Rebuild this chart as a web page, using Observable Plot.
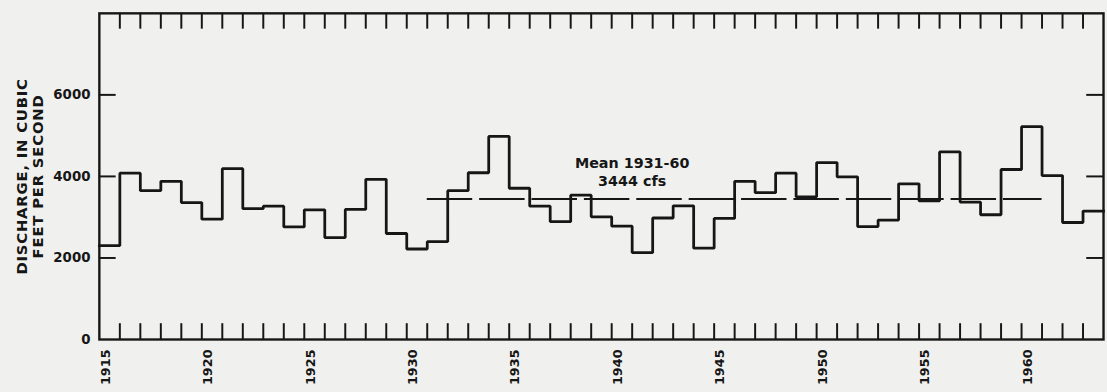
<!DOCTYPE html>
<html>
<head>
<meta charset="utf-8">
<script src="https://cdn.jsdelivr.net/npm/d3@7"></script>
<script src="https://cdn.jsdelivr.net/npm/@observablehq/plot@0.6"></script>
<style>
  html, body { margin: 0; padding: 0; overflow: hidden; background: #f0f0ee; }
  #chart { width: 1107px; height: 392px; overflow: hidden; }
</style>
</head>
<body>
<div id="chart"></div>
<script>
// Water years shown (each year is one flat step)
const years = [1915,1916,1917,1918,1919,1920,1921,1922,1923,1924,
               1925,1926,1927,1928,1929,1930,1931,1932,1933,1934,
               1935,1936,1937,1938,1939,1940,1941,1942,1943,1944,
               1945,1946,1947,1948,1949,1950,1951,1952,1953,1954,
               1955,1956,1957,1958,1959,1960,1961,1962,1963];
// Annual mean discharge, cubic feet per second
const discharge = [2300,4080,3650,3880,3360,2950,4190,3210,3270,2760,
                   3180,2500,3190,3930,2600,2220,2400,3650,4090,4980,
                   3710,3270,2890,3540,3010,2780,2130,2980,3280,2240,
                   2970,3880,3600,4080,3500,4340,3990,2770,2930,3820,
                   3400,4600,3370,3060,4170,5220,4020,2870,3150];
const yTickValues = [0, 2000, 4000, 6000];
const yLabelYears = [1915,1920,1925,1930,1935,1940,1945,1950,1955,1960];
const meanValue = 3444;
const meanStart = 1931;
const meanEnd = 1960;
const meanLabel = ["Mean 1931-60", "3444 cfs"];
const yTitle = ["DISCHARGE, IN CUBIC", "FEET PER SECOND"];

const ink = "#161616";
const lastYear = years[years.length - 1];
const steps = years.map((yr, i) => ({year: yr, q: discharge[i]}));
steps.push({year: lastYear + 1, q: discharge[discharge.length - 1]});
const boundaries = years.slice(1);

const W = 1120, ML = 100, MR = 4;
const innerW = W - ML - MR;

const chart = Plot.plot({
  width: W,
  height: 392,
  marginLeft: ML,
  marginRight: MR,
  marginTop: 13,
  marginBottom: 49,
  x: {domain: [years[0], lastYear + 1], axis: null},
  y: {domain: [0, 8000], axis: null},
  style: {background: "transparent", fontFamily: "DejaVu Sans", fontWeight: "bold", fontSize: "13.5px", color: ink},
  marks: [
    Plot.frame({stroke: ink, strokeWidth: 2.4}),
    // year ticks, bottom and top (inward)
    Plot.ruleX(boundaries, {x: d => d, insetTop: 314, stroke: ink, strokeWidth: 2}),
    Plot.ruleX(boundaries, {x: d => d, insetBottom: 314, stroke: ink, strokeWidth: 2}),
    // discharge ticks, left and right (inward)
    Plot.ruleY(yTickValues.slice(1), {y: d => d, insetRight: innerW - 17, stroke: ink, strokeWidth: 2}),
    Plot.ruleY(yTickValues.slice(1), {y: d => d, insetLeft: innerW - 17, stroke: ink, strokeWidth: 2}),
    // tick labels
    Plot.text(yTickValues, {y: d => d, text: d => String(d), frameAnchor: "left", textAnchor: "end", dx: -9, fill: ink}),
    Plot.text(yLabelYears, {x: d => d + 0.5, text: d => String(d), frameAnchor: "bottom", rotate: -90, textAnchor: "end", dy: 10, fontSize: 13, fill: ink}),
    // mean line
    Plot.ruleY([meanValue], {x1: meanStart, x2: meanEnd + 1, stroke: ink, strokeWidth: 2, strokeDasharray: "46,7"}),
    // annual step line
    Plot.line(steps, {x: "year", y: "q", curve: "step-after", stroke: ink, strokeWidth: 2.8, strokeLinejoin: "miter", strokeLinecap: "square"}),
    // annotation
    Plot.text([meanLabel.join("\n")], {x: 1941, y: 4133, text: d => d, textAnchor: "middle", lineAnchor: "middle", lineHeight: 1.3, fontSize: 14.5, fill: ink}),
    // y title
    Plot.text([yTitle.join("\n")], {frameAnchor: "left", text: d => d, rotate: -90, dx: -70, textAnchor: "middle", lineAnchor: "middle", lineHeight: 1.07, fontSize: 15, fill: ink, className: "ytitle"})
  ]
});
chart.querySelectorAll(".ytitle text").forEach(t => t.setAttribute("letter-spacing", "0.8"));
document.getElementById("chart").appendChild(chart);
</script>
</body>
</html>
